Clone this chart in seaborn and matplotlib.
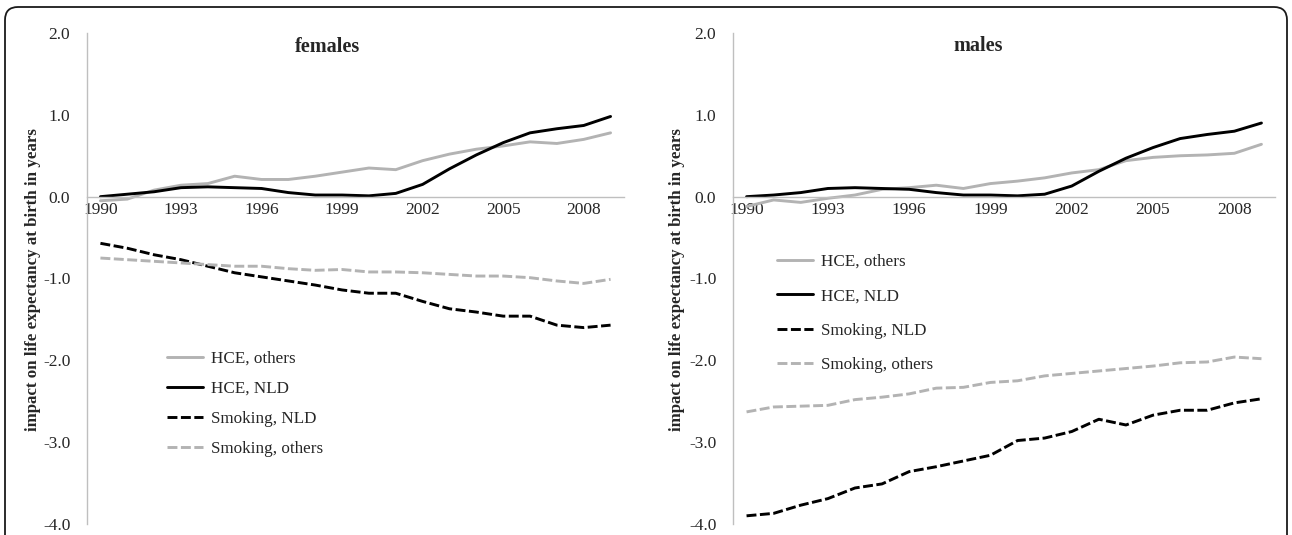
import numpy as np
import pandas as pd
import matplotlib
matplotlib.use("Agg")
import matplotlib.pyplot as plt
import seaborn as sns
from matplotlib.patches import FancyBboxPatch
from matplotlib.lines import Line2D

# ---------------- data ----------------
years = list(range(1990, 2010))
series_names = ["HCE, others", "HCE, NLD", "Smoking, NLD", "Smoking, others"]

fem_hce_others = [-0.05, -0.03, 0.08, 0.14, 0.16, 0.25, 0.21, 0.21, 0.25, 0.30,
                  0.35, 0.33, 0.44, 0.52, 0.58, 0.62, 0.67, 0.65, 0.70, 0.78]
fem_hce_nld = [0.00, 0.03, 0.06, 0.11, 0.12, 0.11, 0.10, 0.05, 0.02, 0.02,
               0.01, 0.04, 0.15, 0.34, 0.51, 0.66, 0.78, 0.83, 0.87, 0.98]
fem_smk_nld = [-0.57, -0.63, -0.71, -0.77, -0.85, -0.93, -0.98, -1.03, -1.08, -1.14,
               -1.18, -1.18, -1.28, -1.37, -1.41, -1.46, -1.46, -1.57, -1.60, -1.57]
fem_smk_others = [-0.75, -0.77, -0.79, -0.81, -0.83, -0.85, -0.85, -0.88, -0.90, -0.89,
                  -0.92, -0.92, -0.93, -0.95, -0.97, -0.97, -0.99, -1.03, -1.06, -1.01]

male_hce_others = [-0.12, -0.04, -0.07, -0.02, 0.02, 0.09, 0.11, 0.14, 0.10, 0.16,
                   0.19, 0.23, 0.29, 0.33, 0.44, 0.48, 0.50, 0.51, 0.53, 0.64]
male_hce_nld = [0.00, 0.02, 0.05, 0.10, 0.11, 0.10, 0.09, 0.05, 0.02, 0.02,
                0.01, 0.03, 0.13, 0.31, 0.47, 0.60, 0.71, 0.76, 0.80, 0.90]
male_smk_nld = [-3.90, -3.87, -3.77, -3.69, -3.56, -3.51, -3.36, -3.30, -3.23, -3.16,
                -2.98, -2.95, -2.87, -2.72, -2.79, -2.67, -2.61, -2.61, -2.52, -2.47]
male_smk_others = [-2.63, -2.57, -2.56, -2.55, -2.48, -2.45, -2.41, -2.34, -2.33, -2.27,
                   -2.25, -2.19, -2.16, -2.13, -2.10, -2.07, -2.03, -2.02, -1.96, -1.98]

panel_titles = ["females", "males"]
y_ticks = [2.0, 1.0, 0.0, -1.0, -2.0, -3.0, -4.0]
x_tick_years = [1990, 1993, 1996, 1999, 2002, 2005, 2008]
y_label = "impact on life expectancy at birth in years"

# ---------------- style ----------------
sns.set_style("white")
plt.rcParams["font.family"] = ["Liberation Serif", "DejaVu Serif"]
plt.rcParams["axes.unicode_minus"] = False

GRAY = "#b3b3b3"
BLACK = "#000000"
AXIS_GRAY = "#bfbfbf"
TEXT = "#262626"
palette = {"HCE, others": GRAY, "HCE, NLD": BLACK,
           "Smoking, NLD": BLACK, "Smoking, others": GRAY}
dash_map = {"HCE, others": "", "HCE, NLD": "",
            "Smoking, NLD": (3.4, 1.2), "Smoking, others": (3.4, 1.2)}
LW = 2.1
FS = 12.3

fig = plt.figure(figsize=(12.92, 5.35), dpi=100)
W, H = 1292.0, 535.0

def frac_rect(l, t, r, b):
    return [l / W, 1 - b / H, (r - l) / W, (b - t) / H]

ax_l = fig.add_axes(frac_rect(87, 33, 624, 524))
ax_r = fig.add_axes(frac_rect(733, 33, 1275, 524))

panels = [
    (ax_l, [fem_hce_others, fem_hce_nld, fem_smk_nld, fem_smk_others]),
    (ax_r, [male_hce_others, male_hce_nld, male_smk_nld, male_smk_others]),
]

panel_cfg = [
    dict(anchor=((167 - 87) / 537.0, (524 - 351) / 491.0), spacing=0.81,
         ylabel_x=(33 - 87) / 537.0, title_xy=(328, 47)),
    dict(anchor=((777 - 733) / 542.0, (524 - 254) / 491.0), spacing=1.08,
         ylabel_x=(677 - 733) / 542.0, title_xy=(978, 46)),
]

for i, (ax, vals) in enumerate(panels):
    cfg = panel_cfg[i]
    rows = []
    for name, v in zip(series_names, vals):
        for yr, val in zip(years, v):
            rows.append({"year": yr, "value": val, "series": name})
    df = pd.DataFrame(rows)
    sns.lineplot(data=df, x="year", y="value", hue="series", style="series",
                 hue_order=series_names, style_order=series_names,
                 palette=palette, dashes=dash_map, linewidth=LW,
                 legend=False, ax=ax)

    ax.set_xlim(1989.5, 2009.5)
    ax.set_ylim(-4.0, 2.0)
    ax.set_xlabel("")
    ax.set_ylabel(y_label, fontsize=12.2, fontweight="bold", color=TEXT,
                  va="center")
    ax.yaxis.set_label_coords(cfg["ylabel_x"], (524 - 280) / 491.0)

    for s in ["top", "right"]:
        ax.spines[s].set_visible(False)
    ax.spines["bottom"].set_position(("data", 0))
    for s in ["left", "bottom"]:
        ax.spines[s].set_color(AXIS_GRAY)
        ax.spines[s].set_linewidth(1.0)

    ax.set_yticks(y_ticks)
    ax.set_yticklabels([f"{t:.1f}" for t in y_ticks])
    ax.set_xticks(x_tick_years)
    ax.set_xticklabels([str(y) for y in x_tick_years])
    ax.set_xticks(np.arange(1989.5, 2010.0, 1.0), minor=True)
    ax.tick_params(axis="x", which="major", length=0, pad=4,
                   labelsize=12.5, labelcolor=TEXT)
    ax.tick_params(axis="x", which="minor", length=4.5, width=1.0,
                   color=AXIS_GRAY, direction="out")
    ax.tick_params(axis="y", which="major", length=5, width=1.0,
                   color=AXIS_GRAY, direction="out", pad=7,
                   labelsize=12.5, labelcolor=TEXT)
    ax.grid(False)
    ax.set_facecolor("none")

    tx, ty = cfg["title_xy"]
    fig.text(tx / W, 1 - ty / H, panel_titles[i], ha="center", va="center",
             fontsize=14.6, fontweight="bold", color=TEXT)

    handles = [Line2D([], [], color=palette[n], linewidth=LW,
                      linestyle="-" if dash_map[n] == "" else (0, dash_map[n]))
               for n in series_names]
    ax.legend(handles=handles, labels=series_names, loc="upper left",
              bbox_to_anchor=cfg["anchor"], frameon=False, borderpad=0,
              borderaxespad=0, handlelength=2.13, handletextpad=0.47,
              labelspacing=cfg["spacing"], fontsize=FS, labelcolor=TEXT)

# outer rounded frame (bottom edge runs off the image)
frame = FancyBboxPatch((0.05, -0.3), 12.82, 5.58,
                       boxstyle="round,pad=0,rounding_size=0.13",
                       transform=fig.dpi_scale_trans, fill=False,
                       edgecolor="#1a1a1a", linewidth=1.3, clip_on=False)
fig.patches.append(frame)

fig.savefig("out.png", dpi=100, facecolor="white")
